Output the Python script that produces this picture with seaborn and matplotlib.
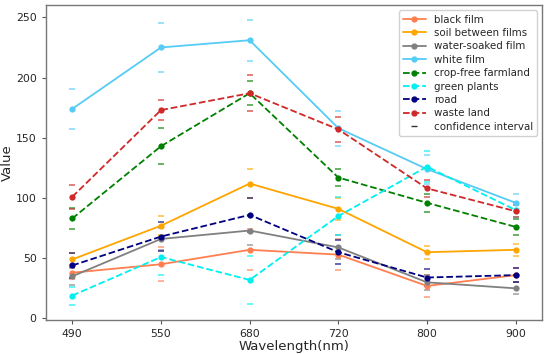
import numpy as np
import matplotlib
matplotlib.use('Agg')
import matplotlib.pyplot as plt
from matplotlib.lines import Line2D
import seaborn as sns

sns.set_style('white')
plt.rcParams['font.family'] = ['DejaVu Sans']

# Dane
wavelengths = ['490', '550', '680', '720', '800', '900']

series_names = ['black film', 'soil between films', 'water-soaked film', 'white film',
                'crop-free farmland', 'green plants', 'road', 'waste land']

black_film = [38, 45, 57, 53, 27, 36]
soil_between = [49, 77, 112, 91, 55, 57]
water_soaked = [35, 66, 73, 59, 30, 25]
white_film = [174, 225, 231, 158, 124, 96]
crop_free = [83, 143, 187, 117, 96, 76]
green_plants = [19, 51, 32, 85, 126, 90]
road = [44, 68, 86, 55, 34, 36]
waste_land = [101, 173, 187, 157, 108, 89]

# polowa szerokosci przedzialu ufnosci
black_film_ci = [5, 14, 17, 13, 9, 6]
soil_between_ci = [5, 8, 12, 9, 5.5, 5]
water_soaked_ci = [7, 9, 12, 10, 6, 5]
white_film_ci = [16.5, 20, 17, 14.5, 12, 7]
crop_free_ci = [8.5, 15, 10, 7, 7.5, 6.5]
green_plants_ci = [7.5, 15, 20, 16, 13, 6]
road_ci = [10, 12, 14, 10, 7, 6]
waste_land_ci = [10, 8, 15, 10.5, 7, 5]

values = [black_film, soil_between, water_soaked, white_film,
          crop_free, green_plants, road, waste_land]
cis = [black_film_ci, soil_between_ci, water_soaked_ci, white_film_ci,
       crop_free_ci, green_plants_ci, road_ci, waste_land_ci]
colors = ['#FF7F50', '#FFA500', '#808080', '#55CCF5',
          '#008000', '#00F0F0', '#000080', '#D02828']
styles = ['-', '-', '-', '-', '--', '--', '--', '--']

fig, ax = plt.subplots(figsize=(5.5, 3.54), dpi=100)
fig.subplots_adjust(left=0.083, right=0.986, bottom=0.097, top=0.985)

x = np.arange(len(wavelengths))
handles = []
for name, vals, ci, col, ls in zip(series_names, values, cis, colors, styles):
    vals = np.array(vals, dtype=float)
    ci = np.array(ci, dtype=float)
    sns.lineplot(x=x, y=vals, color=col, linestyle=ls, linewidth=1.3,
                 marker='o', markersize=4.5, markeredgewidth=0, ax=ax)
    ax.scatter(x, vals + ci, marker='_', s=20, color=col, alpha=0.65, linewidths=1.3)
    ax.scatter(x, vals - ci, marker='_', s=20, color=col, alpha=0.65, linewidths=1.3)
    handles.append(Line2D([0], [0], color=col, linestyle=ls, linewidth=1.3,
                          marker='o', markersize=3.5, label=name))

handles.append(Line2D([0], [0], color='#333333', linestyle='none', marker='_',
                      markersize=4, label='confidence interval'))

ax.set_xticks(x)
ax.set_xticklabels(wavelengths)
ax.set_xlim(-0.3, 5.3)
ax.set_ylim(-1, 260)
ax.set_yticks([0, 50, 100, 150, 200, 250])
ax.tick_params(axis='both', labelsize=7.8, length=3, color='#555555', left=True, bottom=True)
ax.set_xlabel('Wavelength(nm)', fontsize=9.5, labelpad=1)
ax.set_ylabel('Value', fontsize=9.5, labelpad=1.5)
for sp in ax.spines.values():
    sp.set_color('#777777')
    sp.set_linewidth(1)

ax.legend(handles=handles, loc='upper right', fontsize=7.4, labelspacing=0.33,
          handlelength=2.2, borderpad=0.4, framealpha=0.9)

plt.savefig('out.png', dpi=100)
plt.close()
